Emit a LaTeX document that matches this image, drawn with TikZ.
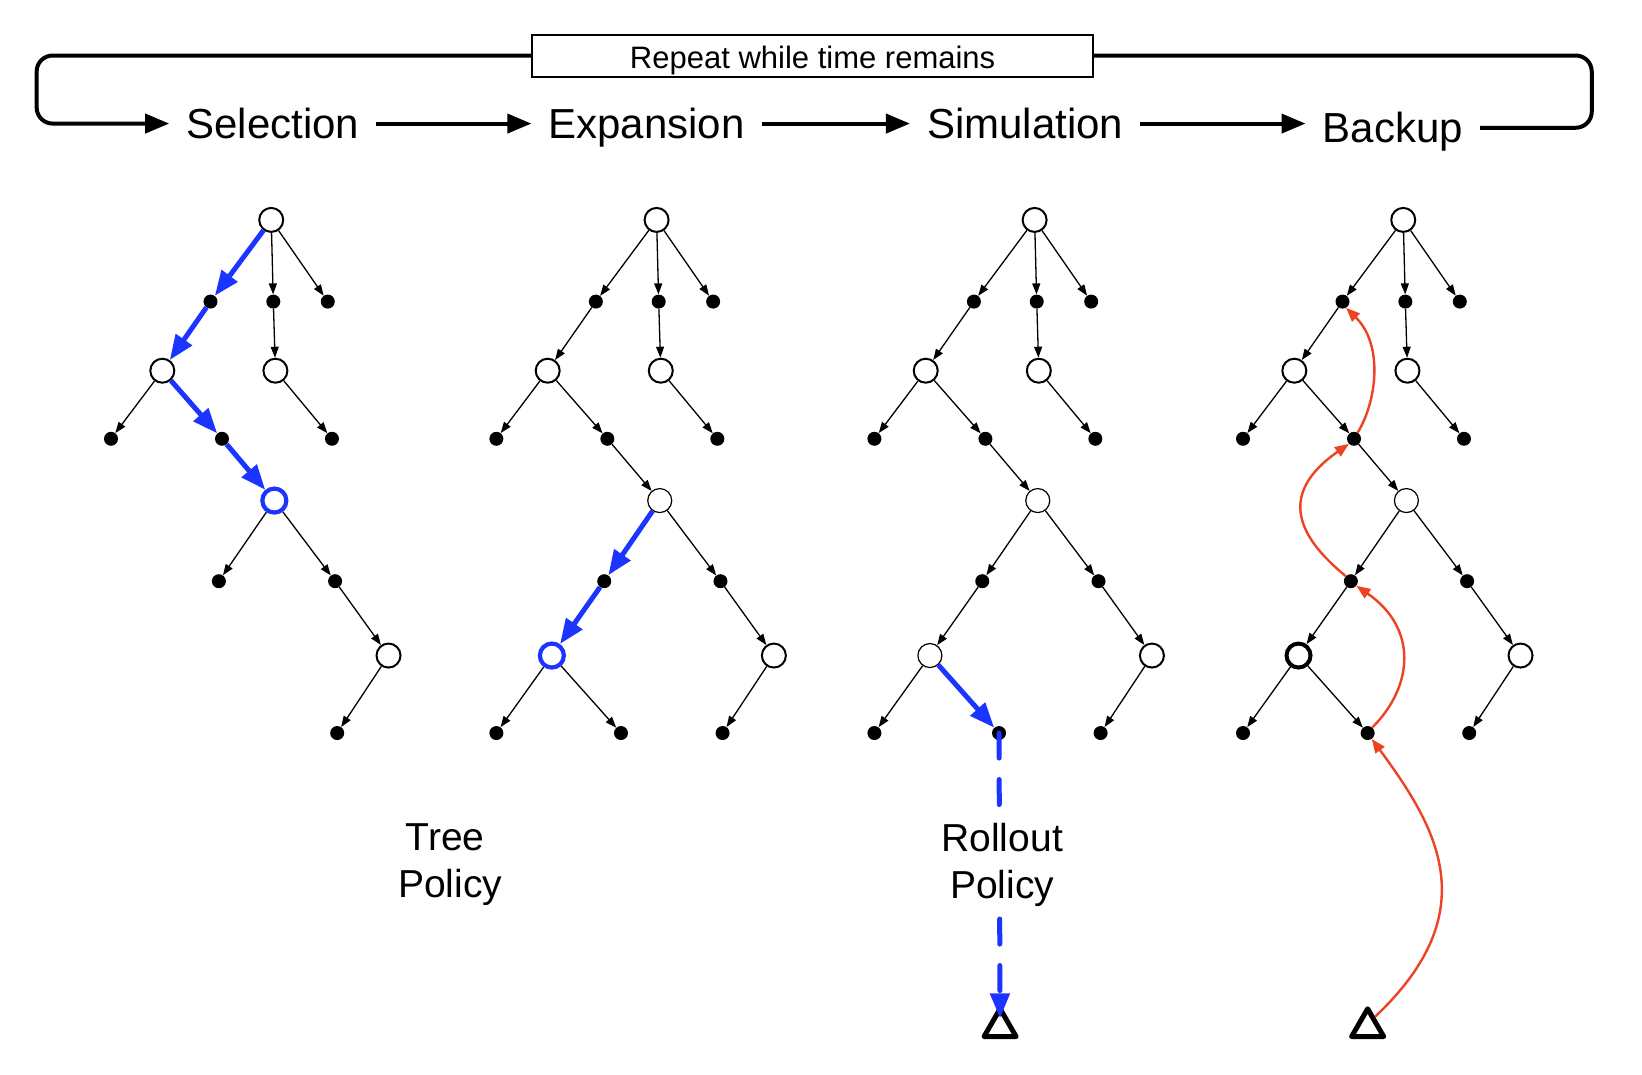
\documentclass[tikz,border=0pt]{standalone}
\usepackage{fontspec}
\setmainfont{Liberation Sans}
\usetikzlibrary{arrows.meta,shapes.geometric}
\definecolor{mblue}{RGB}{28,52,255}
\definecolor{mred}{RGB}{238,66,36}
\newcommand\mytreenodes[2]{%
 \begin{scope}[shift={(#2,210)}]
 \node[onode] (#1r) at (0,0) {};
 \node[dnode] (#1a1) at (-58,78) {};
 \node[dnode] (#1a2) at (2,78) {};
 \node[dnode] (#1a3) at (54,78) {};
 \node[onode] (#1b1) at (-104,144) {};
 \node[onode] (#1b2) at (4,144) {};
 \node[dnode] (#1c1) at (-153,209) {};
 \node[dnode] (#1c2) at (-47,209) {};
 \node[dnode] (#1c3) at (58,209) {};
 \node[onode,d1st] (#1d1) at (3,268) {};
 \node[dnode] (#1e1) at (-50,345) {};
 \node[dnode] (#1e2) at (61,345) {};
 \node[onode] (#1f2) at (112,416) {};
 \node[dnode] (#1g3) at (63,490) {};
 \end{scope}}
\newcommand\mytreeext[2]{%
 \begin{scope}[shift={(#2,210)}]
 \node[onode,f1st] (#1f1) at (-100,416) {};
 \node[dnode] (#1g1) at (-153,490) {};
 \node[dnode] (#1g2) at (-34,490) {};
 \end{scope}}
\newcommand\myedges[2]{\foreach \u/\v in {#2}{\draw[tedge] (#1\u) -- (#1\v);}}
\newcommand\myblue[2]{\foreach \u/\v in {#2}{\draw[bedge] (#1\u) -- (#1\v);}}
\begin{document}
\begin{tikzpicture}[x=1.0472pt, y=-1.0472pt,
  d1st/.style={}, f1st/.style={},
  onode/.style={circle, draw, fill=white, line width=2pt, minimum size=24pt, inner sep=0pt},
  dnode/.style={circle, fill=black, minimum size=14pt, inner sep=0pt},
  thinc/.style={line width=1.2pt},
  thickc/.style={line width=4pt},
  bnode/.style={draw=mblue, line width=4.2pt},
  tedge/.style={line width=1.3pt, -{Triangle[length=11pt,width=8pt]}},
  bedge/.style={draw=mblue, line width=5pt, -{Triangle[length=25pt,width=19pt]}},
  bdash/.style={draw=mblue, line width=5pt, line cap=round, dash pattern=on 25pt off 21.5pt, -{Triangle[length=25pt,width=19pt]}},
  redge/.style={draw=mred, line width=2.4pt, -{Triangle[length=14pt,width=11pt]}},
  trinode/.style={regular polygon, regular polygon sides=3, draw, line width=5pt, line join=round, minimum size=37pt, inner sep=0pt},
  stage/.style={font=\fontsize{42}{50}\selectfont, text height=30pt, text depth=0pt, inner ysep=0pt, inner xsep=17pt},
  policy/.style={font=\fontsize{39}{47}\selectfont, align=center},
  loopline/.style={line width=4pt, rounded corners=16pt},
  harrow/.style={line width=4pt, -{Triangle[length=24pt,width=19pt]}}]
\useasboundingbox (0,0) rectangle (1568,1026);
\fill[white] (0,0) rectangle (1568,1026);
% header
\node[draw, line width=2pt, minimum width=561pt, minimum height=42pt, inner sep=0pt, text height=26pt, text depth=0pt, font=\fontsize{31}{37}\selectfont] (Rep) at (776,53) {Repeat while time remains};
\node[stage] (Sel) at (260.5,118) {Selection};
\node[stage] (Exp) at (617.5,118) {Expansion};
\node[stage] (Sim) at (979,118) {Simulation};
\node[stage] (Bak) at (1330,122) {Backup};
\coordinate (L1) at (35,53);
\coordinate (L2) at (35,118);
\coordinate (R1) at (1520,53);
\coordinate (R2) at (1520,122);
\draw[loopline, -{Triangle[length=24pt,width=19pt]}] (Rep.west) -- (L1) -- (L2) -- (Sel.west);
\draw[loopline] (Rep.east) -- (R1) -- (R2) -- (Bak.east);
\draw[harrow] (Sel) -- (Exp);
\draw[harrow] (Exp) -- (Sim);
\draw[harrow] (Sim.east) -- (Sim.east -| Bak.west);
% tree A (Selection)
\begin{scope}[d1st/.style={bnode}]
\mytreenodes{A}{259}
\end{scope}
\myedges{A}{r/a2,r/a3,a2/b2,b1/c1,b2/c3,d1/e1,d1/e2,e2/f2,f2/g3}
\myblue{A}{r/a1,a1/b1,b1/c2,c2/d1}
% tree B (Expansion)
\begin{scope}[d1st/.style={thinc}, f1st/.style={bnode}]
\mytreenodes{B}{627}
\mytreeext{B}{627}
\end{scope}
\myedges{B}{r/a1,r/a2,r/a3,a1/b1,a2/b2,b1/c1,b1/c2,b2/c3,c2/d1,d1/e2,e2/f2,f2/g3,f1/g1,f1/g2}
\myblue{B}{d1/e1,e1/f1}
% tree C (Simulation)
\begin{scope}[d1st/.style={thinc}, f1st/.style={thinc}]
\mytreenodes{C}{988}
\mytreeext{C}{988}
\end{scope}
\myedges{C}{r/a1,r/a2,r/a3,a1/b1,a2/b2,b1/c1,b1/c2,b2/c3,c2/d1,d1/e1,d1/e2,e2/f2,f2/g3,e1/f1,f1/g1}
\myblue{C}{f1/g2}
\node[trinode] (Ctri) at (955,981) {};
\draw[bdash, shorten >=9pt] (Cg2.center) -- (Ctri.center);
\node[policy, fill=white, inner sep=1pt] (RP) at (957,826) {Rollout\\Policy};
\node[policy] (TP) at (430,826) {Tree\hspace*{10pt}\\Policy};
% tree D (Backup)
\begin{scope}[d1st/.style={thinc}, f1st/.style={thickc}]
\mytreenodes{D}{1340}
\mytreeext{D}{1340}
\end{scope}
\myedges{D}{r/a1,r/a2,r/a3,a1/b1,a2/b2,b1/c1,b1/c2,b2/c3,c2/d1,d1/e1,d1/e2,e2/f2,f2/g3,e1/f1,f1/g1,f1/g2}
\node[trinode] (Dtri) at (1306,981) {};
\draw[redge] (Dtri.55) .. controls (1420,870) and (1372,790) .. (Dg2.-55);
\draw[redge] (Dg2.50) .. controls (1350,655) and (1354,600) .. (De1.-40);
\draw[redge] (De1.135) .. controls (1236,510) and (1222,470) .. (Dc2.-135);
\draw[redge] (Dc2.60) .. controls (1314,385) and (1322,330) .. (Da1.-60);
\end{tikzpicture}
\end{document}
